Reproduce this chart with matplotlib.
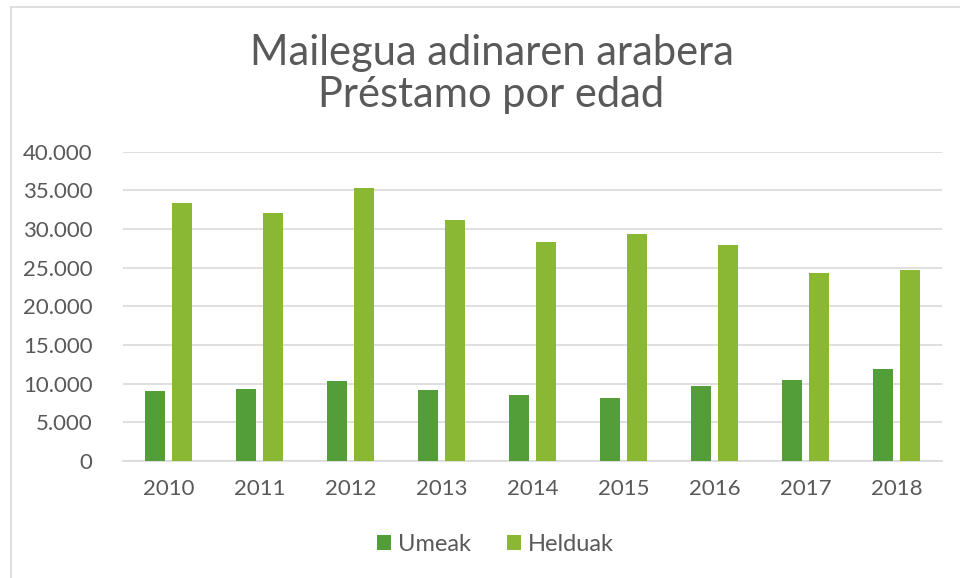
import numpy as np
import matplotlib.pyplot as plt
from matplotlib.patches import Rectangle

plt.rcParams['font.family'] = ['Lato', 'DejaVu Sans']

# data
years = ['2010', '2011', '2012', '2013', '2014', '2015', '2016', '2017', '2018']
umeak = [9000, 9300, 10350, 9150, 8500, 8200, 9650, 10500, 11850]
helduak = [33400, 32100, 35300, 31200, 28300, 29300, 27900, 24300, 24700]
y_ticks = [0, 5000, 10000, 15000, 20000, 25000, 30000, 35000, 40000]

txt = '#595959'
grid = '#D9D9D9'

fig = plt.figure(figsize=(9.6, 5.78), dpi=100)
# chart border (only top and left edges are visible in the crop)
fig.patches.append(Rectangle((11 / 960, -0.1), 1.1, 1 - 7 / 578 + 0.1,
                             transform=fig.transFigure, fill=False,
                             edgecolor=grid, lw=1.2))

ax = fig.add_axes([123 / 960, 1 - 461 / 578, 819 / 960, 309.3 / 578])
x = np.arange(len(years))
w = 0.22
ax.bar(x - 0.143, umeak, w, color='#549E39', label='Umeak', zorder=3)
ax.bar(x + 0.143, helduak, w, color='#8AB833', label='Helduak', zorder=3)

ax.set_xlim(-0.5, len(years) - 0.5)
ax.set_ylim(0, 40000)
ax.set_yticks(y_ticks)
ax.set_yticklabels([f'{v:,}'.replace(',', '.') for v in y_ticks])
ax.set_xticks(x)
ax.set_xticklabels(years)
ax.tick_params(axis='both', length=0, labelsize=16, labelcolor=txt)
ax.tick_params(axis='y', pad=22)
ax.tick_params(axis='x', pad=13)
ax.yaxis.grid(True, color=grid, lw=1.2, zorder=0)
for s in ['top', 'right', 'left']:
    ax.spines[s].set_visible(False)
ax.spines['bottom'].set_color(grid)
ax.spines['bottom'].set_linewidth(1.2)

fig.text(0.512, 1 - 74 / 578, 'Mailegua adinaren arabera\nPréstamo por edad',
         ha='center', va='center', fontsize=30, color=txt, linespacing=1.12)

ax.legend(loc='center', bbox_to_anchor=(0.455, -0.27), ncol=2, frameon=False,
          fontsize=17, labelcolor=txt, handlelength=0.6, handleheight=0.6,
          handletextpad=0.3, columnspacing=1.5)

fig.savefig('out.png', dpi=100)
